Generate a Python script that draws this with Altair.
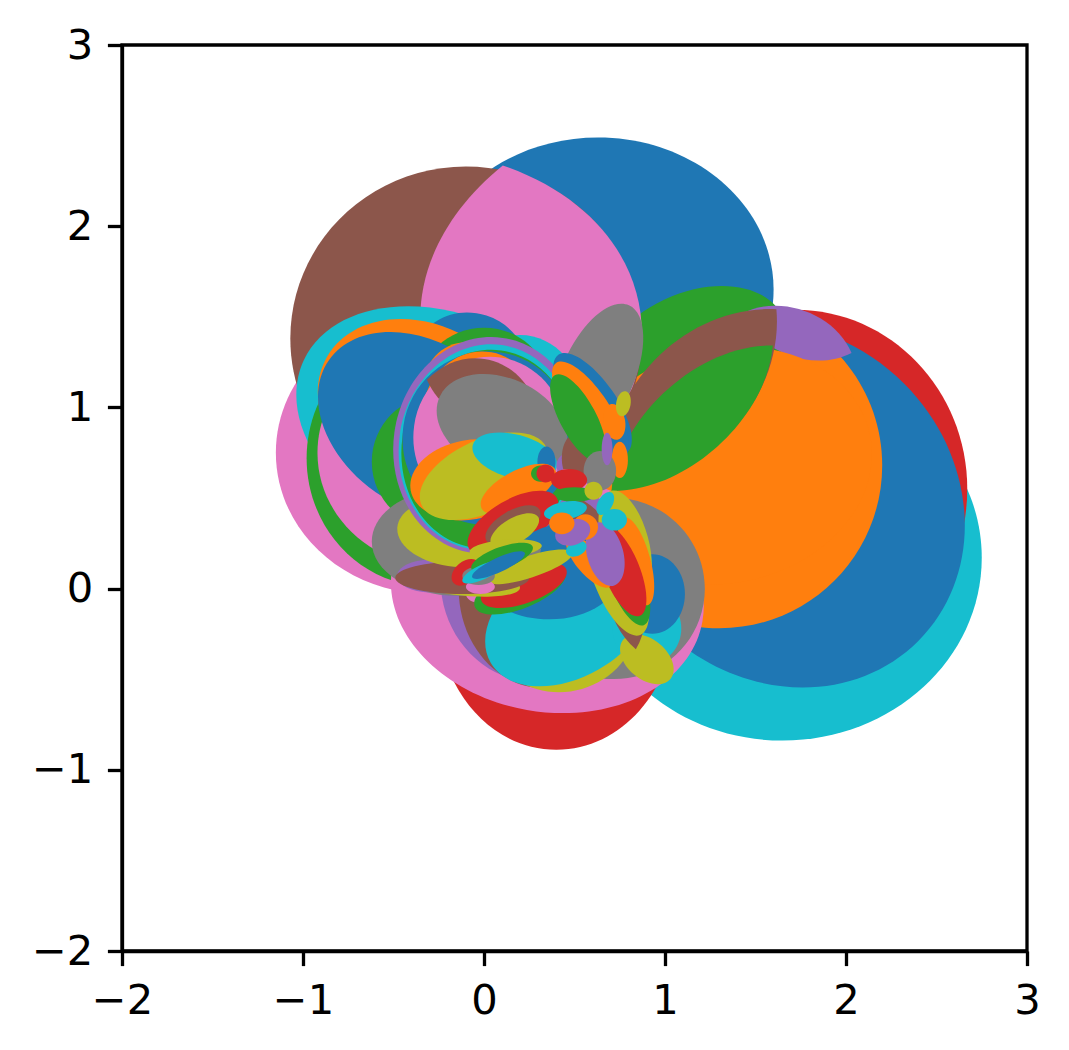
import altair as alt
import pandas as pd

# colour names of the shapes
C = {"b": "#1f77b4", "o": "#ff7f0e", "g": "#2ca02c", "r": "#d62728", "p": "#9467bd",
     "n": "#8c564b", "k": "#e377c2", "y": "#7f7f7f", "l": "#bcbd22", "c": "#17becf"}

# every shape: centre x, centre y, semi-axis a, semi-axis b, tilt in degrees, form, colour
# form: e = ellipse, v = pointed lens
right_back = [
    (1.65, 0.17, 1.10, 1.01, 0, "e", "c"),
    (1.72, 0.55, 0.95, 0.99, 0, "e", "r"),
    (1.65, 0.46, 1.06, 0.95, -45, "e", "b"),
    (0.40, -0.15, 0.65, 0.74, 0, "e", "r"),
    (1.30, 0.68, 0.90, 0.90, 0, "e", "o"),
    (0.63, 1.65, 0.97, 0.84, 0, "e", "b"),
    (1.15, 1.27, 0.55, 0.36, 25, "e", "g"),
    (1.73, 1.41, 0.32, 0.13, -20, "v", "p"),
    (1.33, 0.68, 0.82, 0.65, 12, "e", "o"),
]
top_discs = [
    (-0.30, 0.75, 0.85, 0.78, 0, "e", "k"),
    (-0.10, 1.38, 0.97, 0.95, 0, "e", "n"),
    (0.26, 1.45, 0.90, 0.61, 100, "v", "k"),
    (0.63, 1.18, 0.42, 0.20, 66, "e", "y"),
    (1.15, 1.06, 0.67, 0.29, 46, "v", "n"),
    (1.15, 0.94, 0.60, 0.21, 42, "v", "g"),
]
left_rings = [
    (-0.18, 0.88, 0.90, 0.62, -25, "e", "c"),
    (0.20, 1.00, 0.35, 0.40, 0, "e", "c"),
    (-0.30, 0.72, 0.68, 0.71, 0, "e", "g"),
    (-0.25, 0.75, 0.67, 0.63, 0, "e", "k"),
    (-0.07, 1.25, 0.31, 0.27, -18, "e", "b"),
    (-0.33, 0.97, 0.62, 0.48, -30, "e", "o"),
    (0.00, 1.10, 0.36, 0.34, 0, "e", "g"),
    (-0.34, 0.90, 0.63, 0.45, -35, "e", "b"),
    (-0.10, 1.10, 0.24, 0.26, 0, "e", "o"),
    (-0.25, 0.70, 0.37, 0.37, 0, "e", "g"),
]
lower_stack = [
    (0.35, -0.03, 0.87, 0.65, -10, "e", "k"),
    (0.72, 0.00, 0.50, 0.50, -20, "e", "y"),
    (0.30, 0.05, 0.54, 0.57, 0, "e", "p"),
    (0.33, 0.00, 0.47, 0.55, 0, "e", "n"),
    (0.50, -0.40, 0.34, 0.16, 17, "v", "l"),
    (0.47, -0.16, 0.50, 0.33, 30, "e", "c"),
    (0.90, -0.22, 0.19, 0.20, 0, "e", "c"),
    (0.36, 0.10, 0.40, 0.27, 0, "e", "b"),
    (0.93, -0.03, 0.18, 0.22, 0, "e", "b"),
    (0.90, -0.39, 0.17, 0.11, -40, "e", "l"),
    (0.84, -0.16, 0.05, 0.05, 0, "e", "k"),
    (-0.02, -0.03, 0.08, 0.05, 0, "e", "k"),
    (0.20, 0.00, 0.27, 0.11, 22, "e", "g"),
    (0.22, 0.02, 0.25, 0.10, 20, "e", "r"),
    (0.78, 0.00, 0.34, 0.11, -80, "v", "n"),
    (0.74, 0.05, 0.33, 0.13, -68, "e", "l"),
    (0.78, 0.25, 0.30, 0.13, -75, "e", "l"),
    (0.78, 0.08, 0.30, 0.10, -70, "e", "g"),
    (0.84, 0.15, 0.25, 0.08, -75, "e", "o"),
    (0.76, 0.10, 0.27, 0.10, -68, "e", "r"),
    (0.58, 0.15, 0.18, 0.07, -50, "e", "o"),
    (0.67, 0.19, 0.18, 0.10, -75, "e", "p"),
]
left_lower = [
    (-0.15, 0.26, 0.47, 0.30, 0, "e", "y"),
    (-0.10, 0.03, 0.30, 0.07, -5, "e", "l"),
    (-0.30, 0.07, 0.18, 0.09, 0, "e", "p"),
    (-0.12, 0.06, 0.37, 0.09, 0, "e", "n"),
    (-0.15, 0.31, 0.33, 0.19, -5, "e", "l"),
]
central_rings = [
    (-0.33, 1.08, 0.14, 0.07, 55, "e", "r"),
    (0.02, 0.79, 0.52, 0.60, -8, "e", "p"),
    (0.02, 0.78, 0.49, 0.57, -8, "e", "c"),
    (0.02, 0.77, 0.475, 0.55, -8, "e", "g"),
    (0.02, 0.83, 0.47, 0.48, -8, "e", "b"),
    (-0.02, 0.96, 0.32, 0.35, -10, "e", "o"),
    (0.03, 0.84, 0.42, 0.44, -8, "e", "k"),
    (-0.02, 1.10, 0.30, 0.17, -10, "v", "n"),
    (0.10, 0.90, 0.38, 0.26, -25, "e", "y"),
    (-0.08, 0.60, 0.33, 0.22, 10, "e", "o"),
    (0.00, 0.62, 0.38, 0.20, 25, "e", "l"),
    (0.17, 0.73, 0.24, 0.12, -15, "e", "c"),
    (0.345, 0.70, 0.05, 0.085, 0, "e", "b"),
    (0.19, 0.55, 0.23, 0.10, 28, "e", "o"),
    (0.31, 0.635, 0.05, 0.045, 0, "e", "g"),
    (0.34, 0.635, 0.05, 0.05, 0, "e", "r"),
]
right_center = [
    (0.57, 0.68, 0.17, 0.10, 0, "e", "p"),
    (0.50, 0.72, 0.07, 0.13, 0, "e", "n"),
    (0.45, 0.62, 0.04, 0.04, 0, "e", "k"),
    (0.60, 1.02, 0.33, 0.13, -55, "e", "b"),
    (0.57, 1.00, 0.30, 0.11, -55, "e", "o"),
    (0.52, 0.94, 0.27, 0.10, -62, "e", "g"),
    (0.75, 0.80, 0.05, 0.10, 0, "e", "b"),
    (0.72, 0.92, 0.10, 0.06, 100, "e", "o"),
    (0.77, 1.02, 0.07, 0.04, 80, "e", "l"),
    (0.75, 0.71, 0.045, 0.10, 0, "e", "o"),
    (0.64, 0.65, 0.09, 0.11, 0, "e", "y"),
    (0.68, 0.77, 0.03, 0.09, 0, "e", "p"),
    (0.47, 0.60, 0.10, 0.06, 0, "e", "r"),
    (0.50, 0.52, 0.12, 0.04, 0, "e", "g"),
]
middle_tangle = [
    (0.16, 0.36, 0.28, 0.13, 30, "e", "r"),
    (0.16, 0.35, 0.17, 0.08, 30, "e", "n"),
    (0.30, 0.27, 0.17, 0.05, 25, "e", "b"),
    (0.17, 0.32, 0.15, 0.07, 30, "e", "l"),
    (0.25, 0.12, 0.25, 0.06, 18, "e", "l"),
    (-0.10, 0.09, 0.09, 0.06, 40, "e", "r"),
    (-0.02, 0.01, 0.08, 0.04, 0, "e", "k"),
    (-0.03, 0.07, 0.09, 0.05, 0, "e", "y"),
    (0.12, 0.22, 0.20, 0.05, 5, "e", "l"),
    (0.10, 0.17, 0.18, 0.06, 20, "e", "g"),
    (-0.01, 0.09, 0.12, 0.04, 25, "e", "c"),
    (0.08, 0.13, 0.16, 0.04, 25, "e", "b"),
    (0.72, 0.38, 0.07, 0.06, 0, "e", "c"),
    (0.56, 0.34, 0.07, 0.07, 0, "e", "o"),
    (0.45, 0.43, 0.12, 0.05, 10, "e", "c"),
    (0.51, 0.22, 0.06, 0.04, 25, "e", "c"),
    (0.49, 0.31, 0.10, 0.07, 20, "e", "p"),
    (0.43, 0.36, 0.07, 0.06, 0, "e", "o"),
    (0.67, 0.47, 0.07, 0.04, 60, "e", "c"),
    (0.605, 0.54, 0.05, 0.05, 0, "e", "l"),
]

shapes = (right_back + top_discs + left_rings + lower_stack + left_lower
          + central_rings + right_center + middle_tangle)

PX_PER_UNIT = 181.0


def outline(ratio, form):
    r = round(ratio, 4)
    if form == "e":
        h = 0.5523
        return (f"M-1,0C-1,{h*r:.4f},{-h},{r},0,{r}C{h},{r},1,{h*r:.4f},1,0"
                f"C1,{-h*r:.4f},{h},{-r},0,{-r}C{-h},{-r},-1,{-h*r:.4f},-1,0Z")
    c = 1.33 * r
    return f"M-1,0C-0.5,{c:.4f},0.5,{c:.4f},1,0C0.5,{-c:.4f},-0.5,{-c:.4f},-1,0Z"


rows = []
for i, (x, y, a, b, tilt, form, col) in enumerate(shapes):
    rows.append({"i": i, "x": x, "y": y, "path": outline(b / a, form),
                 "size": (2 * a * PX_PER_UNIT) ** 2, "rot": (360 - tilt) % 360,
                 "color": C[col]})
df = pd.DataFrame(rows)

ticks = [-2, -1, 0, 1, 2, 3]


def axis():
    return alt.Axis(values=ticks, grid=False, title=None, tickSize=14.6, tickWidth=3.3,
                    tickColor="black", domainColor="black", domainWidth=3.3,
                    labelFont="DejaVu Sans", labelFontSize=41.67, labelColor="black",
                    labelPadding=14.6, labelFlush=False, labelOverlap=False)


chart = (
    alt.Chart(df)
    .mark_point(filled=True, opacity=1, strokeWidth=0)
    .encode(
        x=alt.X("x:Q", scale=alt.Scale(domain=[-2, 3], nice=False, zero=False), axis=axis()),
        y=alt.Y("y:Q", scale=alt.Scale(domain=[-2, 3], nice=False, zero=False), axis=axis()),
        shape=alt.Shape("path:N", scale=None),
        size=alt.Size("size:Q", scale=None),
        angle=alt.Angle("rot:Q", scale=None),
        fill=alt.Fill("color:N", scale=None),
        order=alt.Order("i:Q"),
    )
    .properties(width=905, height=906,
                autosize=alt.AutoSizeParams(type="none"),
                padding={"left": 114, "top": 37, "right": 34, "bottom": 90})
    .configure_view(stroke="black", strokeWidth=3.3)
)

chart.save("out.html", embed_options={"renderer": "svg", "actions": False})
